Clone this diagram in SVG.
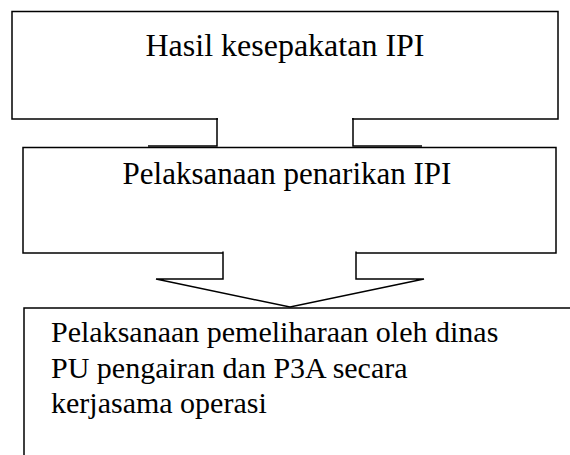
<svg xmlns="http://www.w3.org/2000/svg" width="570" height="455" viewBox="0 0 570 455">
<style>
.box{fill:#fff;stroke:#000;stroke-width:1.5}
.line{fill:none;stroke:#000;stroke-width:1.5}
.arrow{fill:#fff;stroke:#000;stroke-width:1.5;stroke-linejoin:miter}
.mask{fill:#fff;stroke:none}
.t{font-family:"Liberation Serif","Times New Roman",serif;font-size:30px;fill:#000}
.c{text-anchor:middle}
</style>
<rect width="570" height="455" fill="#fff"/>
<g id="node-hasil">
<rect class="box" x="12" y="11.5" width="546" height="107.5"/>
<text class="t c" x="285" y="56" style="font-size:32px">Hasil kesepakatan IPI</text>
</g>
<g id="node-penarikan">
<rect class="box" x="23" y="147.5" width="533" height="105.5"/>
<text class="t c" x="287" y="184" style="font-size:31px">Pelaksanaan penarikan IPI</text>
</g>
<g id="node-pemeliharaan">
<rect class="box" x="24" y="308" width="560" height="160"/>
<text class="t" x="51" y="342">Pelaksanaan pemeliharaan oleh dinas</text>
<text class="t" x="51" y="378">PU pengairan dan P3A secara</text>
<text class="t" x="51" y="413">kerjasama operasi</text>
</g>
<g id="connectors">
<rect class="mask" x="218" y="117" width="134" height="29"/>
<path class="line" d="M148,146 H217 V118 M353,118 V146 H422"/>
<path class="arrow" d="M223,251.5 V279 H156 L290,307 L424,279 H356 V251.5"/>
</g>
</svg>
